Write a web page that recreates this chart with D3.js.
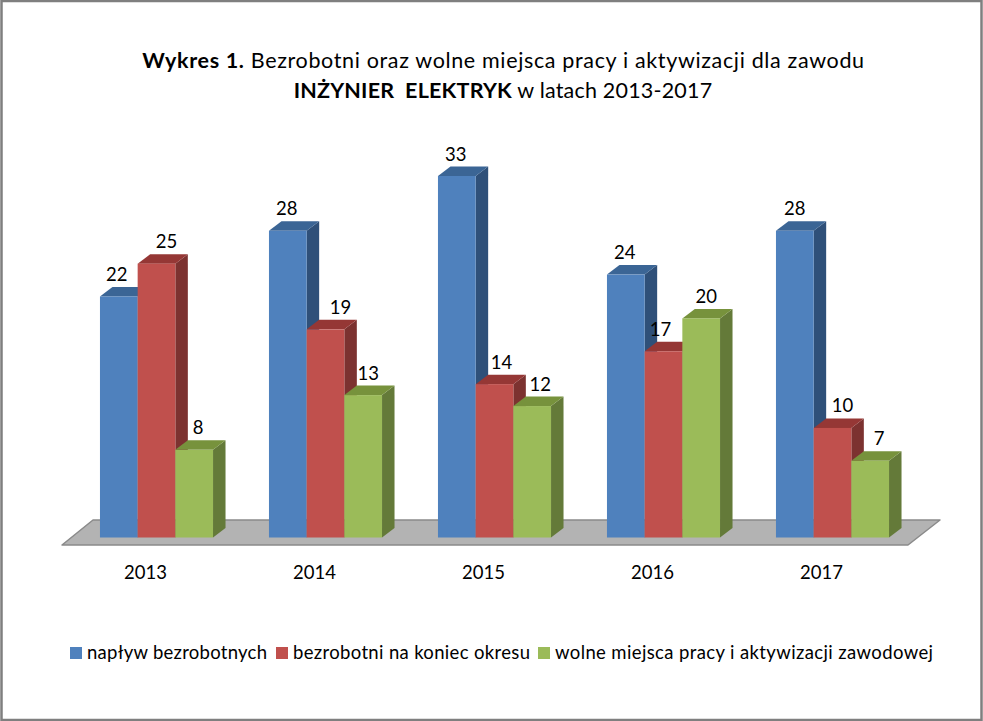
<!DOCTYPE html>
<html>
<head>
<meta charset="utf-8">
<script src="https://cdn.jsdelivr.net/npm/d3@7"></script>
<style>
  html, body { margin: 0; padding: 0; background: #fff; }
  svg { display: block; }
  text { font-family: Lato, "Open Sans", sans-serif; fill: #000; }
</style>
</head>
<body>
<div id="chart"></div>
<script>
const years = ["2013", "2014", "2015", "2016", "2017"];
const seriesNames = ["napływ bezrobotnych", "bezrobotni na koniec okresu", "wolne miejsca pracy i aktywizacji zawodowej"];
const napływ = [22, 28, 33, 24, 28];
const bezrobotni = [25, 19, 14, 17, 10];
const wolne = [8, 13, 12, 20, 7];

const width = 983;
const height = 721;
const depthX = 12.5;
const depthY = 9.5;
const baseY = 537.5;

// front, top, side colours per series
const colors = [
  { front: "#4f81bd", top: "#3b6595", side: "#2f5079" },
  { front: "#c0504d", top: "#953735", side: "#7c3230" },
  { front: "#9bbb59", top: "#77923c", side: "#647a39" }
];

// label nudges, the original labels sit a bit off the bar centre
const labelDx = [
  [-2, 10, 4],
  [-1, 15, 5],
  [-1, 7, 8],
  [-1, -3, 5],
  [0, 10, 9]
];

const svg = d3.select("#chart").append("svg")
  .attr("width", width)
  .attr("height", height);

// Frame
svg.append("rect")
  .attr("x", 1.5).attr("y", 1)
  .attr("width", width - 3).attr("height", height - 2)
  .attr("fill", "#fff")
  .attr("stroke", "#7f7f7f")
  .attr("stroke-width", 2.5);

// Title
const title = svg.append("text").attr("text-anchor", "middle").style("font-size", "21.5px");
const line1 = title.append("tspan").attr("x", 503.5).attr("y", 68).style("letter-spacing", "0.65px");
line1.append("tspan").style("font-weight", 700).text("Wykres 1.");
line1.append("tspan").text(" Bezrobotni oraz wolne miejsca pracy i aktywizacji dla zawodu");
const line2 = title.append("tspan").attr("x", 503).attr("y", 98).style("letter-spacing", "0.2px");
line2.append("tspan").style("font-weight", 700).attr("xml:space", "preserve").text("INŻYNIER  ELEKTRYK");
line2.append("tspan").text(" w latach 2013-2017");

// Scales
const xScale = d3.scaleBand()
  .domain(years)
  .range([72, 917])
  .paddingInner(0.331)
  .paddingOuter(0.1655);

const xSub = d3.scaleBand()
  .domain(d3.range(seriesNames.length))
  .range([0, xScale.bandwidth()]);

const yScale = d3.scaleLinear()
  .domain([0, 33])
  .range([baseY, 176]);

// Floor
svg.append("path")
  .attr("d", `M62,545 L93,520 L940,520 L908,545 Z`)
  .attr("fill", "#b3b3b3")
  .attr("stroke", "#8a8a8a")
  .attr("stroke-width", 1.5)
  .attr("stroke-linejoin", "round");

// Bars
const table = years.map((year, i) => ({
  year,
  values: [napływ[i], bezrobotni[i], wolne[i]]
}));

const groups = svg.selectAll("g.year")
  .data(table)
  .enter()
  .append("g")
  .attr("class", "year")
  .attr("transform", d => `translate(${xScale(d.year)},0)`);

const bars = groups.selectAll("g.bar")
  .data(d => d.values)
  .enter()
  .append("g")
  .attr("class", "bar");

const w = xSub.bandwidth();

bars.append("path") // side
  .attr("d", (d, i) => {
    const x = xSub(i) + w;
    return `M${x},${yScale(d)} l${depthX},${-depthY} L${x + depthX},${baseY - depthY} L${x},${baseY} Z`;
  })
  .attr("fill", (d, i) => colors[i].side);

bars.append("path") // top
  .attr("d", (d, i) => `M${xSub(i)},${yScale(d)} l${depthX},${-depthY} h${w} l${-depthX},${depthY} Z`)
  .attr("fill", (d, i) => colors[i].top);

bars.append("rect") // front
  .attr("x", (d, i) => xSub(i))
  .attr("y", d => yScale(d))
  .attr("width", w)
  .attr("height", d => baseY - yScale(d))
  .attr("fill", (d, i) => colors[i].front);

// Value labels, on top of all bars
table.forEach((row, r) => {
  svg.selectAll(null)
    .data(row.values)
    .enter()
    .append("text")
    .attr("x", (d, i) => xScale(row.year) + xSub(i) + w / 2 + labelDx[r][i])
    .attr("y", d => yScale(d) - 15.5)
    .attr("text-anchor", "middle")
    .style("font-size", "18.5px")
    .text(d => d);
});

// x axis, labels follow the front edge of the floor
const xAxis = svg.append("g")
  .attr("transform", `translate(-11, 560)`)
  .call(d3.axisBottom(xScale).tickSize(0).tickPadding(3));
xAxis.select(".domain").remove();
xAxis.selectAll("text")
  .style("font-family", "Lato, sans-serif")
  .style("font-size", "18.5px")
  .attr("dy", "0.85em");

// Legend
const legendX = [70, 276, 538];
const legendTextWidth = [180, 237, 378];
const legend = svg.selectAll("g.legend")
  .data(seriesNames)
  .enter()
  .append("g")
  .attr("class", "legend")
  .attr("transform", (d, i) => `translate(${legendX[i]},647)`);

legend.append("rect")
  .attr("width", 12)
  .attr("height", 12)
  .attr("fill", (d, i) => colors[i].front);

legend.append("text")
  .attr("x", 17)
  .attr("y", 11.5)
  .attr("textLength", (d, i) => legendTextWidth[i])
  .style("font-size", "18.5px")
  .text(d => d);
</script>
</body>
</html>
